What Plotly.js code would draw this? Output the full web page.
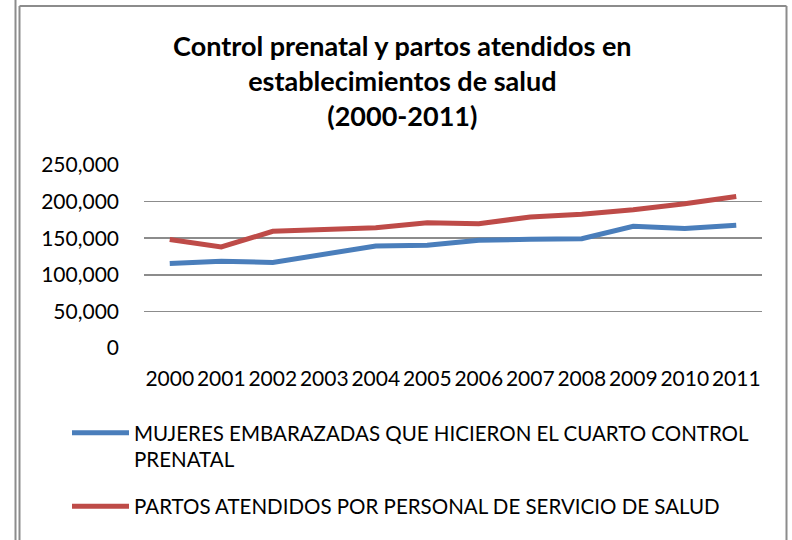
<!DOCTYPE html>
<html>
<head>
<meta charset="utf-8">
<script src="https://cdn.plot.ly/plotly-3.0.1.min.js"></script>
<style>html,body{margin:0;padding:0;background:#fff;}#chart{width:792px;height:540px;}</style>
</head>
<body>
<div id="chart"></div>
<script>
const years = ["2000","2001","2002","2003","2004","2005","2006","2007","2008","2009","2010","2011"];
const mujeresControl = [115400,118500,116800,128000,139400,140300,147100,148500,149400,166200,163100,167600];
const partosAtendidos = [148100,138000,159400,161700,164400,171200,169900,178900,182600,189000,197100,207100];
const seriesNames = [
  "MUJERES EMBARAZADAS QUE HICIERON EL CUARTO CONTROL<br>PRENATAL",
  "PARTOS ATENDIDOS POR PERSONAL DE SERVICIO DE SALUD"
];
const yTicks = [0,50000,100000,150000,200000,250000];
const yTickText = ["0","50,000","100,000","150,000","200,000","250,000"];

const FONT = "Lato, 'Open Sans', sans-serif";
const traces = [
  {x: years, y: mujeresControl, name: seriesNames[0], type: "scatter", mode: "lines",
   line: {color: "#4a7ebb", width: 5}, legendgroup: "a"},
  {x: years, y: partosAtendidos, name: seriesNames[1], type: "scatter", mode: "lines",
   line: {color: "#be4b48", width: 5}, legendgroup: "b"}
];

// frame decoration in paper coords (plot area: x 144..762, y 165..348)
const px = v => (v - 144) / 618;
const py = v => (348 - v) / 183;
const frameLine = {color: "#8c8c8c", width: 2};
const shapes = [
  {type: "line", xref: "paper", yref: "paper", x0: px(15.5), x1: px(15.5), y0: py(0), y1: py(540), line: frameLine},
  {type: "line", xref: "paper", yref: "paper", x0: px(19.5), x1: px(19.5), y0: py(6), y1: py(540), line: frameLine},
  {type: "line", xref: "paper", yref: "paper", x0: px(19.5), x1: px(786.5), y0: py(6), y1: py(6), line: frameLine},
  {type: "line", xref: "paper", yref: "paper", x0: px(786.5), x1: px(786.5), y0: py(6), y1: py(540), line: frameLine}
];

const layout = {
  width: 792, height: 540,
  margin: {l: 144, r: 30, t: 165, b: 192},
  paper_bgcolor: "#fff", plot_bgcolor: "#fff",
  font: {family: FONT, color: "#000", size: 21},
  title: {
    text: "<b>Control prenatal y partos atendidos en<br>establecimientos de salud<br>(2000-2011)</b>",
    font: {family: FONT, size: 27, color: "#000"},
    xref: "container", x: 0.508, xanchor: "center",
    yref: "container", y: 1 - 56/540, yanchor: "middle"
  },
  xaxis: {
    type: "category", range: [-0.5, 11.5], showgrid: false, zeroline: false, showline: false, ticks: "",
    ticklabelstandoff: 16,
    tickfont: {family: FONT, size: 21, color: "#000"}, fixedrange: true
  },
  yaxis: {
    range: [0, 250000], tickvals: yTicks, ticktext: yTickText,
    showgrid: true, gridcolor: "#8c8c8c", gridwidth: 1.5, zeroline: false, showline: false,
    ticks: "", ticklabelstandoff: 24,
    tickfont: {family: FONT, size: 21, color: "#000"}, fixedrange: true
  },
  showlegend: true,
  legend: {
    x: px(67), xanchor: "left", y: py(413), yanchor: "top",
    orientation: "v", valign: "top", traceorder: "grouped", tracegroupgap: 17,
    itemwidth: 57,
    font: {family: FONT, size: 20.5, color: "#000"},
    bgcolor: "rgba(0,0,0,0)"
  },
  shapes: shapes
};

Plotly.newPlot("chart", traces, layout, {displayModeBar: false, staticPlot: true});
</script>
</body>
</html>
